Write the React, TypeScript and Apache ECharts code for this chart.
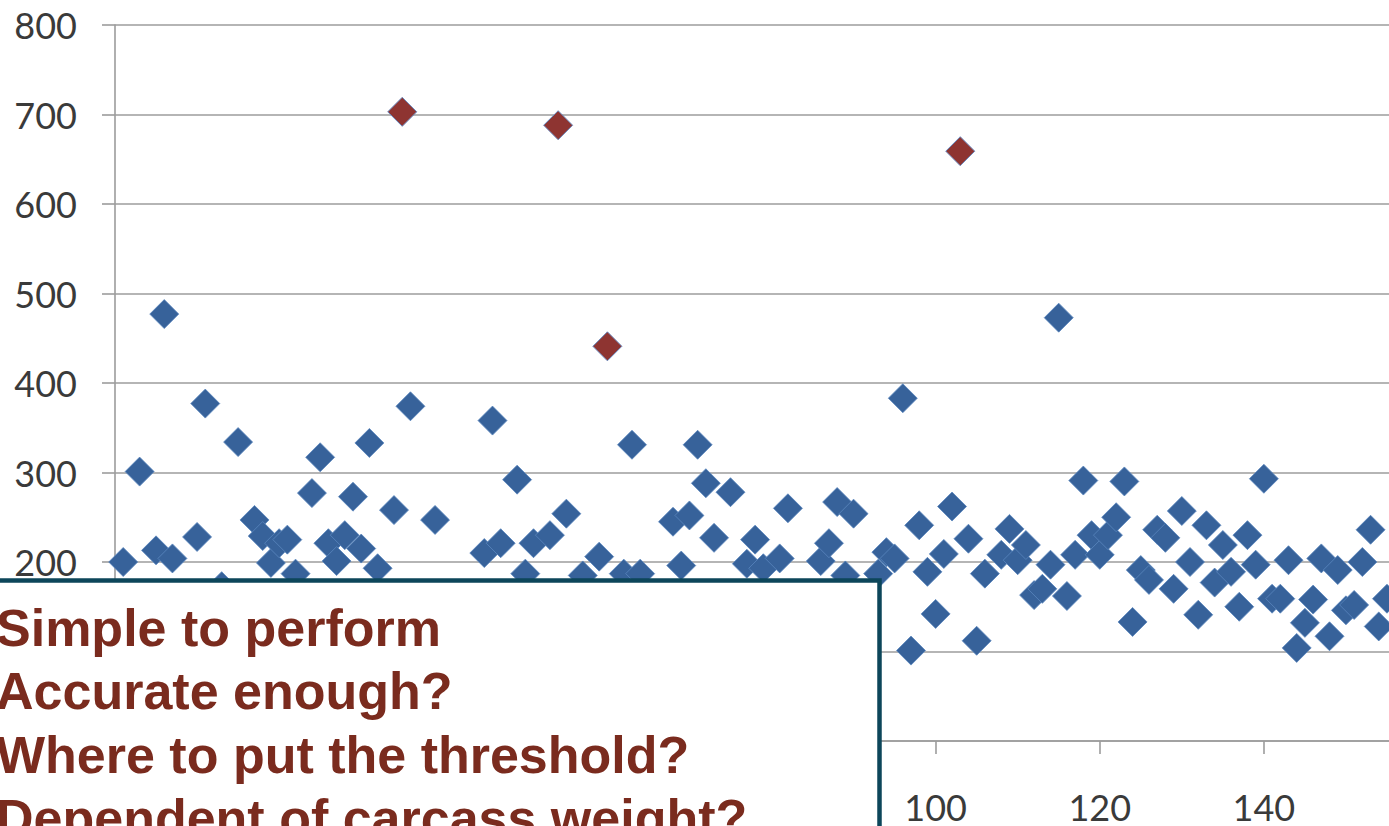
import React, { useEffect, useRef } from "react";
import * as echarts from "echarts";

// Sample index (x) and measured value (y) for the regular points
const normalX = [
  1, 3, 5, 6, 7, 10, 11, 13, 15, 17, 18, 19, 20, 21, 22, 24, 25, 26, 27, 28, 29, 30, 31, 32, 34, 36, 39,
  45, 46, 47, 49, 50, 51, 53, 55, 57, 59, 62, 63, 64, 68, 69, 70, 71, 72, 73, 75, 77, 78, 79, 81, 82,
  86, 87, 88, 89, 90, 93, 94, 95, 96, 97, 98, 99, 100, 101, 102, 104, 105, 106, 108, 109, 110, 111,
  112, 113, 114, 115, 116, 117, 118, 119, 120, 121, 122, 123, 124, 125, 126, 127, 128, 129, 130, 131,
  132, 133, 134, 135, 136, 137, 138, 139, 140, 141, 142, 143, 144, 145, 146, 147, 148, 149, 150, 151,
  152, 153, 154, 155,
];
const normalY = [
  200, 301, 213, 477, 204, 228, 377, 173, 334, 247, 229, 199, 221, 225, 187, 277, 317, 221, 201, 230, 273, 215, 333, 193, 258, 374, 247,
  210, 358, 221, 292, 187, 221, 230, 254, 185, 206, 187, 331, 187, 245, 196, 252, 331, 288, 227, 278, 198, 225, 193, 204, 260,
  201, 221, 267, 185, 254, 187, 211, 204, 383, 101, 241, 189, 142, 209, 262, 226, 112, 187, 208, 237, 202, 219,
  163, 170, 197, 473, 162, 208, 291, 230, 208, 230, 250, 290, 133, 191, 180, 236, 227, 170, 257, 200,
  141, 241, 177, 219, 189, 150, 230, 197, 293, 159, 159, 202, 104, 132, 158, 204, 117, 191, 146, 152,
  200, 236, 128, 159,
];

// Outliers above the threshold (red)
const outlierX = [35, 54, 60, 103];
const outlierY = [703, 688, 441, 659];

const yTicks = [0, 100, 200, 300, 400, 500, 600, 700, 800];
const xTicks = [0, 20, 40, 60, 80, 100, 120, 140, 160];
// tick labels that are not hidden behind the text box in the reference
const xVisibleLabels = [100, 120, 140];
const yVisibleLabels = [200, 300, 400, 500, 600, 700, 800];

const bulletLines = [
  "Simple to perform",
  "Accurate enough?",
  "Where to put the threshold?",
  "Dependent of carcass weight?",
];

export default function App() {
  const ref = useRef<HTMLDivElement>(null);

  useEffect(() => {
    if (!ref.current) return;
    const chart = echarts.init(ref.current, undefined, { renderer: "svg" });

    const normalData = normalX.map((x, i) => [x, normalY[i]]);
    const outlierData = outlierX.map((x, i) => [x, outlierY[i]]);

    const gridColor = "#9c9c9c";
    const labelFont = "Lato, 'Open Sans', sans-serif";

    const textEls = bulletLines.map((t, i) => ({
      type: "text",
      z: 101,
      x: -4,
      y: 628 + i * 63.3,
      style: {
        text: t,
        fill: "#7a2b1e",
        font: "bold 52px 'Liberation Sans', Arial, sans-serif",
        align: "left",
        verticalAlign: "middle",
      },
    }));

    chart.setOption({
      animation: false,
      backgroundColor: "#ffffff",
      grid: {
        left: 115,
        top: 25,
        bottom: 85,
        right: -39,
        containLabel: false,
        outerBoundsMode: "none",
      },
      xAxis: {
        type: "value",
        min: xTicks[0],
        max: xTicks[xTicks.length - 1],
        interval: 20,
        axisLine: { show: true, onZero: false, lineStyle: { color: gridColor, width: 1.6 } },
        axisTick: { show: true, length: 13, lineStyle: { color: gridColor, width: 1.6 } },
        splitLine: { show: false },
        axisLabel: {
          margin: 48,
          fontSize: 36,
          lineHeight: 36,
          color: "#3a3a3a",
          fontFamily: labelFont,
          formatter: (v: number) => (xVisibleLabels.indexOf(v) >= 0 ? String(v) : ""),
        },
      },
      yAxis: {
        type: "value",
        min: yTicks[0],
        max: yTicks[yTicks.length - 1],
        interval: 100,
        axisLine: { show: true, lineStyle: { color: gridColor, width: 1.6 } },
        axisTick: { show: true, length: 13, lineStyle: { color: gridColor, width: 1.6 } },
        splitLine: { show: true, lineStyle: { color: gridColor, width: 1.6 } },
        axisLabel: {
          margin: 38,
          fontSize: 36,
          color: "#3a3a3a",
          fontFamily: labelFont,
          formatter: (v: number) => (yVisibleLabels.indexOf(v) >= 0 ? String(v) : ""),
        },
      },
      series: [
        {
          name: "normal",
          type: "scatter",
          symbol: "diamond",
          symbolSize: 29,
          data: normalData,
          itemStyle: { color: "#37629a", borderColor: "#5a86be", borderWidth: 0.8, opacity: 1 },
          z: 3,
        },
        {
          name: "outlier",
          type: "scatter",
          symbol: "diamond",
          symbolSize: 29,
          data: outlierData,
          itemStyle: { color: "#8e3431", borderColor: "#6a8bc0", borderWidth: 1, opacity: 1 },
          z: 4,
        },
      ],
      graphic: [
        {
          type: "rect",
          z: 100,
          shape: { x: -20, y: 580.5, width: 899.5, height: 300 },
          style: { fill: "#ffffff", stroke: "#0c465a", lineWidth: 4.5 },
        },
        ...textEls,
      ],
    });

    return () => chart.dispose();
  }, []);

  return (
    <div
      ref={ref}
      style={{ position: "fixed", left: 0, top: 0, width: 1389, height: 826, background: "#fff" }}
    />
  );
}
